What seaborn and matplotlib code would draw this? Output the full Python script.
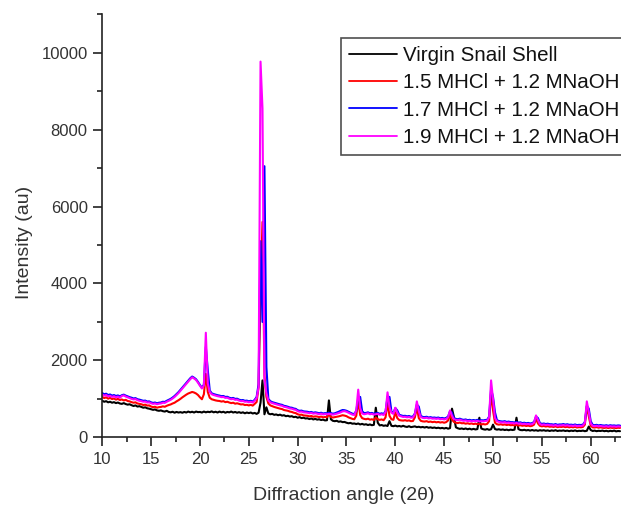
import numpy as np
import pandas as pd
import matplotlib
matplotlib.use("Agg")
import matplotlib.pyplot as plt
from matplotlib.ticker import MultipleLocator
import seaborn as sns

# 2-theta scan, 0.2 degree step from 10 to 63 degrees
two_theta = np.linspace(10.0, 63.0, 266)

virgin = [
    950, 925, 940, 910, 925,
    900, 915, 890, 905, 880,
    870, 890, 865, 850, 860,
    835, 815, 830, 800, 810,
    790, 770, 780, 755, 745,
    730, 715, 725, 700, 690,
    700, 680, 670, 690, 660,
    650, 665, 640, 660, 645,
    655, 640, 660, 645, 670,
    650, 665, 645, 670, 655,
    660, 645, 670, 650, 665,
    655, 675, 650, 665, 645,
    670, 650, 665, 640, 660,
    650, 670, 645, 660, 640,
    655, 635, 650, 625, 645,
    630, 645, 620, 635, 610,
    640, 900, 1480, 600, 780,
    620, 600, 610, 585, 595,
    575, 590, 565, 575, 550,
    560, 540, 550, 525, 535,
    510, 525, 500, 510, 490,
    495, 475, 490, 465, 480,
    460, 470, 450, 460, 440,
    445, 960, 470, 430, 420,
    430, 405, 415, 395, 400,
    380, 365, 375, 355, 360,
    345, 360, 335, 350, 330,
    340, 320, 335, 315, 325,
    770, 380, 310, 320, 300,
    310, 295, 420, 300, 290,
    305, 285, 295, 280, 300,
    280, 270, 290, 265, 275,
    285, 265, 275, 260, 270,
    255, 270, 250, 260, 245,
    255, 240, 250, 235, 245,
    230, 245, 225, 240, 745,
    520, 260, 235, 220, 230,
    215, 230, 210, 225, 205,
    220, 205, 215, 510, 230,
    210, 200, 215, 195, 210,
    330, 215, 200, 210, 195,
    205, 190, 200, 185, 200,
    190, 200, 510, 215, 190,
    185, 195, 180, 190, 175,
    190, 175, 185, 170, 185,
    175, 185, 170, 180, 165,
    180, 170, 185, 165, 175,
    170, 180, 165, 175, 160,
    175, 165, 180, 160, 170,
    165, 175, 160, 170, 280,
    190, 165, 175, 160, 170,
    165, 175, 160, 170, 155,
    170, 160, 175, 155, 165,
    160,
]

hcl_15 = [
    1050, 1020, 1040, 1005, 1025,
    995, 1010, 980, 1000, 970,
    985, 960, 975, 945, 935,
    915, 900, 910, 880, 870,
    860, 840, 850, 825, 830,
    800, 785, 795, 770, 785,
    790, 805, 795, 820, 840,
    855, 880, 900, 935, 965,
    1000, 1040, 1075, 1110, 1140,
    1160, 1180, 1165, 1140, 1100,
    1040, 990, 1120, 1650, 1180,
    1030, 990, 975, 960, 950,
    945, 930, 940, 915, 925,
    905, 890, 900, 875, 885,
    870, 855, 860, 840, 845,
    830, 845, 825, 870, 920,
    1300, 3800, 5600, 1600, 1050,
    880, 830, 810, 790, 775,
    760, 745, 735, 710, 700,
    690, 670, 660, 640, 630,
    600, 585, 590, 570, 565,
    560, 545, 555, 535, 545,
    540, 525, 540, 520, 530,
    520, 600, 530, 515, 525,
    535, 545, 560, 575, 565,
    550, 520, 500, 480, 470,
    560, 950, 580, 500, 480,
    470, 485, 460, 470, 450,
    520, 470, 455, 465, 445,
    520, 900, 560, 470, 455,
    650, 500, 450, 440, 435,
    445, 430, 440, 420, 425,
    520, 780, 500, 430, 415,
    410, 420, 400, 410, 395,
    405, 390, 400, 385, 395,
    380, 395, 440, 580, 460,
    400, 380, 370, 385, 365,
    370, 355, 365, 350, 360,
    345, 355, 340, 350, 335,
    345, 335, 350, 420, 1150,
    700, 380, 340, 330, 340,
    325, 335, 320, 330, 315,
    320, 310, 325, 305, 315,
    300, 310, 295, 305, 290,
    300, 330, 480, 360, 300,
    285, 295, 280, 290, 275,
    280, 270, 285, 265, 275,
    270, 280, 265, 275, 260,
    270, 260, 275, 255, 265,
    260, 270, 330, 800, 550,
    300, 260, 255, 265, 250,
    260, 250, 245, 255, 240,
    255, 245, 250, 240, 250,
    245,
]

hcl_17 = [
    1150, 1120, 1135, 1100, 1115,
    1085, 1100, 1075, 1090, 1065,
    1095, 1110, 1085, 1065, 1045,
    1030, 1010, 1020, 990, 980,
    965, 950, 955, 930, 935,
    910, 895, 905, 885, 900,
    905, 925, 920, 950, 975,
    1000, 1035, 1075, 1125, 1175,
    1235, 1295, 1355, 1415, 1475,
    1535, 1580, 1550, 1510, 1440,
    1360, 1290, 1370, 2350, 1750,
    1220, 1145, 1125, 1110, 1095,
    1085, 1070, 1075, 1050, 1055,
    1030, 1015, 1025, 1000, 1005,
    980, 965, 970, 950, 955,
    935, 950, 930, 975, 1050,
    1380, 5100, 3000, 7050, 1830,
    1000, 940, 915, 900, 885,
    870, 855, 845, 820, 810,
    795, 775, 770, 750, 740,
    705, 690, 695, 675, 670,
    665, 650, 660, 640, 650,
    640, 625, 640, 620, 630,
    625, 635, 630, 615, 625,
    645, 665, 690, 710, 705,
    690, 665, 640, 615, 605,
    690, 1010, 1050, 680, 630,
    635, 650, 625, 635, 615,
    625, 635, 610, 625, 605,
    680, 1050, 1050, 670, 635,
    760, 700, 585, 570, 555,
    560, 545, 555, 535, 540,
    620, 850, 800, 560, 530,
    525, 535, 515, 525, 510,
    515, 505, 515, 495, 505,
    490, 505, 540, 680, 640,
    500, 480, 470, 485, 465,
    455, 465, 445, 455, 440,
    450, 440, 455, 435, 445,
    440, 450, 455, 540, 1250,
    1050, 650, 445, 425, 415,
    410, 420, 400, 410, 395,
    395, 385, 400, 380, 390,
    370, 380, 365, 375, 360,
    370, 400, 540, 500, 370,
    350, 360, 345, 355, 340,
    340, 330, 345, 325, 335,
    335, 345, 330, 340, 325,
    330, 320, 335, 315, 325,
    320, 330, 400, 820, 745,
    420, 325, 315, 325, 310,
    320, 310, 305, 315, 300,
    315, 305, 310, 300, 310,
    305,
]

hcl_19 = [
    1110, 1085, 1100, 1065, 1080,
    1050, 1070, 1040, 1060, 1030,
    1075, 1090, 1060, 1040, 1020,
    1000, 985, 995, 965, 950,
    940, 925, 930, 905, 910,
    885, 870, 880, 860, 875,
    880, 900, 895, 925, 950,
    975, 1010, 1050, 1100, 1150,
    1210, 1270, 1330, 1390, 1450,
    1510, 1560, 1530, 1490, 1420,
    1340, 1270, 1350, 2720, 1400,
    1180, 1120, 1100, 1085, 1070,
    1060, 1045, 1050, 1025, 1030,
    1005, 990, 1000, 975, 980,
    955, 940, 945, 925, 930,
    910, 925, 905, 950, 1020,
    1300, 9770, 8550, 1500, 1150,
    960, 910, 890, 875, 860,
    845, 830, 820, 795, 785,
    770, 750, 745, 725, 715,
    680, 665, 670, 650, 645,
    640, 625, 635, 615, 625,
    615, 600, 615, 595, 605,
    600, 610, 605, 590, 600,
    615, 630, 650, 675, 680,
    665, 640, 615, 590, 580,
    700, 1240, 760, 620, 600,
    610, 625, 600, 610, 590,
    600, 610, 585, 600, 580,
    660, 1170, 790, 640, 610,
    770, 640, 560, 545, 530,
    535, 520, 530, 510, 515,
    600, 935, 680, 530, 505,
    500, 510, 490, 500, 485,
    490, 480, 490, 470, 480,
    465, 480, 520, 700, 560,
    470, 455, 445, 460, 440,
    430, 440, 420, 430, 415,
    425, 415, 430, 410, 420,
    415, 425, 430, 520, 1480,
    980, 500, 420, 400, 390,
    385, 395, 375, 385, 370,
    370, 360, 375, 355, 365,
    345, 355, 340, 350, 335,
    345, 380, 570, 450, 345,
    325, 335, 320, 330, 315,
    315, 305, 320, 300, 310,
    310, 320, 305, 315, 300,
    305, 295, 310, 290, 300,
    295, 305, 380, 935, 660,
    360, 300, 290, 300, 285,
    295, 285, 280, 290, 275,
    290, 280, 285, 275, 285,
    280,
]

sample_names = [
    "Virgin Snail Shell",
    "1.5 MHCl + 1.2 MNaOH",
    "1.7 MHCl + 1.2 MNaOH",
    "1.9 MHCl + 1.2 MNaOH",
]
sample_colors = ["#000000", "#ff0000", "#0000ff", "#ff00ff"]

frames = []
for name, values in zip(sample_names, [virgin, hcl_15, hcl_17, hcl_19]):
    frames.append(pd.DataFrame({"angle": two_theta, "intensity": values, "sample": name}))
df = pd.concat(frames, ignore_index=True)

sns.set_style("ticks")
plt.rcParams["font.family"] = ["Liberation Sans", "DejaVu Sans"]
text_color = "#333333"

fig = plt.figure(figsize=(6.21, 5.05), dpi=100)
ax = fig.add_axes([0.1647, 0.134, 0.8353, 0.8377])

sns.lineplot(
    data=df, x="angle", y="intensity", hue="sample",
    hue_order=sample_names, palette=sample_colors,
    estimator=None, sort=False, linewidth=1.5, ax=ax,
)

ax.set_xlim(10, 63.1)
ax.set_ylim(0, 11000)
ax.xaxis.set_major_locator(MultipleLocator(5))
ax.xaxis.set_minor_locator(MultipleLocator(2.5))
ax.yaxis.set_major_locator(MultipleLocator(2000))
ax.yaxis.set_minor_locator(MultipleLocator(1000))

for side in ["top", "right"]:
    ax.spines[side].set_visible(False)
for side in ["left", "bottom"]:
    ax.spines[side].set_linewidth(1.2)
    ax.spines[side].set_color("#222222")

ax.tick_params(axis="both", which="major", direction="out", length=6.5,
               width=1.2, color="#222222", labelsize=12, labelcolor=text_color, pad=4)
ax.tick_params(axis="both", which="minor", direction="out", length=3.5,
               width=1.2, color="#222222")

ax.set_xlabel("Diffraction angle (2θ)", fontsize=14, color=text_color)
ax.set_ylabel("Intensity (au)", fontsize=14, color=text_color)
ax.xaxis.set_label_coords(0.466, -0.117)
ax.yaxis.set_label_coords(-0.134, 0.46)

handles, labels = ax.get_legend_handles_labels()
leg = ax.legend(
    handles, labels, loc="upper left",
    bbox_to_anchor=(341 / 621, 1 - 38 / 505), bbox_transform=fig.transFigure,
    borderaxespad=0, fontsize=14.8, frameon=True, fancybox=False,
    handlelength=2.3, handletextpad=0.3, labelspacing=0.4, borderpad=0.4,
)
leg.get_frame().set_edgecolor("#222222")
leg.get_frame().set_linewidth(1.2)
for t in leg.get_texts():
    t.set_color("#111111")
for line in leg.get_lines():
    line.set_linewidth(1.3)

fig.savefig("out.png", dpi=100)
